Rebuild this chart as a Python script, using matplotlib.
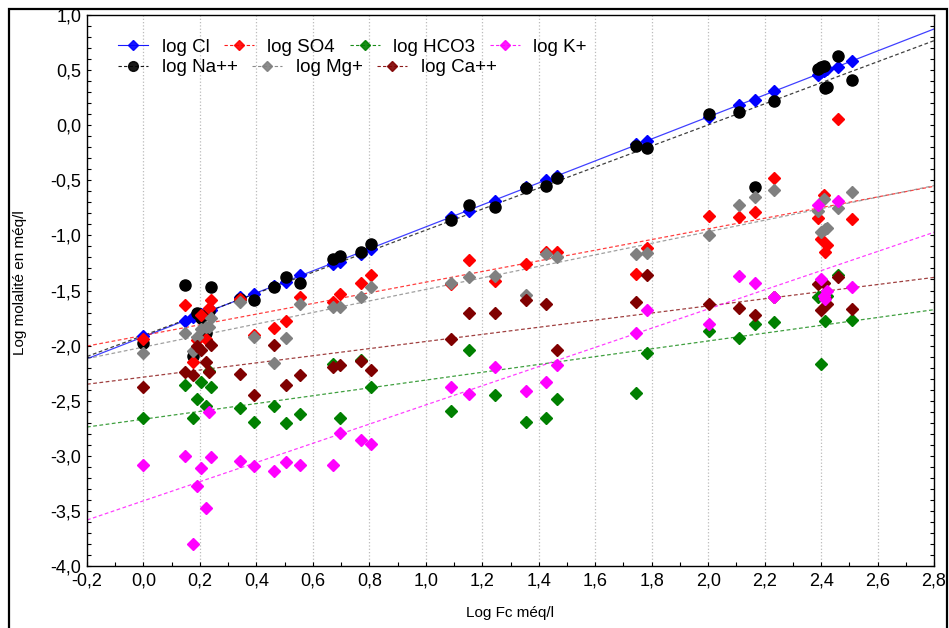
import matplotlib
matplotlib.use('Agg')
import numpy as np
import matplotlib.pyplot as plt
from matplotlib.ticker import MultipleLocator, FuncFormatter
from matplotlib.patches import Rectangle

plt.rcParams['font.family'] = ['Liberation Sans', 'DejaVu Sans']

# log Fc of each sample (x axis)
log_fc = [0.00, 0.146, 0.175, 0.19, 0.205, 0.223, 0.232, 0.238, 0.343, 0.39,
          0.464, 0.505, 0.556, 0.672, 0.696, 0.77, 0.806, 1.088, 1.153, 1.245,
          1.356, 1.424, 1.463, 1.744, 1.783, 2.004, 2.11, 2.166, 2.233, 2.39,
          2.40, 2.41, 2.415, 2.42, 2.46, 2.51]

log_cl = [-1.91, -1.78, -1.74, -1.72, -1.71, -1.70, -1.69, -1.68, -1.56, -1.53,
          -1.46, -1.42, -1.36, -1.26, -1.24, -1.17, -1.12, -0.83, -0.78, -0.69,
          -0.56, -0.50, -0.46, -0.17, -0.14, 0.07, 0.18, 0.23, 0.31, 0.46,
          0.48, 0.49, 0.50, 0.51, 0.53, 0.58]
log_na = [-1.98, -1.45, -2.09, -1.70, -1.75, -1.89, -1.69, -1.47, -1.58, -1.59,
          -1.47, -1.38, -1.43, -1.21, -1.19, -1.15, -1.08, -0.86, -0.72, -0.74,
          -0.57, -0.55, -0.48, -0.19, -0.21, 0.10, 0.12, -0.56, 0.22, 0.51,
          0.53, 0.54, 0.34, 0.35, 0.63, 0.41]
log_so4 = [-1.94, -1.63, -2.15, -1.95, -1.72, -1.94, -1.66, -1.59, -1.58, -1.90,
           -1.84, -1.78, -1.56, -1.60, -1.53, -1.43, -1.36, -1.44, -1.22, -1.41,
           -1.26, -1.15, -1.15, -1.35, -1.11, -0.82, -0.83, -0.79, -0.48, -0.84,
           -1.03, -0.63, -1.15, -1.09, 0.06, -0.85]
log_mg = [-2.07, -1.89, -2.05, -1.92, -1.85, -1.83, -1.83, -1.75, -1.60, -1.92,
          -2.16, -1.93, -1.62, -1.65, -1.65, -1.56, -1.47, -1.43, -1.38, -1.37,
          -1.54, -1.17, -1.20, -1.17, -1.16, -1.00, -0.72, -0.65, -0.59, -0.78,
          -0.97, -0.67, -0.94, -0.93, -0.75, -0.61]
log_hco3 = [-2.66, -2.36, -2.66, -2.48, -2.33, -2.55, -2.23, -2.38, -2.57, -2.69,
            -2.55, -2.70, -2.62, -2.17, -2.66, -2.13, -2.38, -2.59, -2.04, -2.45,
            -2.69, -2.66, -2.48, -2.43, -2.07, -1.87, -1.93, -1.80, -1.79, -1.56,
            -2.17, -1.53, -1.78, -1.55, -1.36, -1.77]
log_ca = [-2.38, -2.24, -2.27, -2.00, -2.04, -2.15, -2.24, -1.99, -2.26, -2.45,
          -1.99, -2.36, -2.27, -2.19, -2.18, -2.14, -2.22, -1.94, -1.70, -1.70,
          -1.59, -1.62, -2.04, -1.60, -1.36, -1.62, -1.66, -1.72, -1.56, -1.44,
          -1.68, -1.43, -1.57, -1.62, -1.38, -1.67]
log_k = [-3.08, -3.00, -3.80, -3.27, -3.11, -3.47, -2.60, -3.01, -3.05, -3.09,
         -3.14, -3.06, -3.08, -3.08, -2.79, -2.86, -2.89, -2.38, -2.44, -2.19,
         -2.41, -2.33, -2.18, -1.89, -1.68, -1.80, -1.37, -1.43, -1.56, -0.72,
         -1.40, -1.55, -1.58, -1.50, -0.69, -1.47]

# label, values, colour, marker, solid fit line?
series = [
    ('log Cl', log_cl, '#0000ff', 'D', True),
    ('log Na++', log_na, '#000000', 'o', False),
    ('log SO4', log_so4, '#ff0000', 'D', False),
    ('log Mg+', log_mg, '#808080', 'D', False),
    ('log HCO3', log_hco3, '#008000', 'D', False),
    ('log Ca++', log_ca, '#800000', 'D', False),
    ('log K+', log_k, '#ff00ff', 'D', False),
]
legend_rows = [['log Cl', 'log SO4', 'log HCO3', 'log K+'],
               ['log Na++', 'log Mg+', 'log Ca++']]

fig = plt.figure(figsize=(9.49, 6.28), dpi=100)
ax = fig.add_axes([0.0917, 0.0987, 0.8925, 0.8774])

x = np.array(log_fc)
xfit = np.array([-0.2, 2.8])
handles = {}
for label, vals, color, marker, solid in series:
    k, b = np.polyfit(x, np.array(vals), 1)
    ls = '-' if solid else (0, (3, 2))
    ax.plot(xfit, k * xfit + b, color=color, lw=0.9, ls=ls, alpha=0.75, zorder=2)
for label, vals, color, marker, solid in series:
    ms = 8 if marker == 'o' else 6.5
    ax.plot(x, vals, ls='none', marker=marker, ms=ms, color=color,
            mec=color, zorder=3)
    ls = '-' if solid else (0, (3, 2))
    h, = ax.plot([], [], marker=marker, ms=ms - 1, color=color, lw=0.8, ls=ls,
                 alpha=0.9)
    handles[label] = h

ax.set_xlim(-0.2, 2.8)
ax.set_ylim(-4.0, 1.0)
ax.xaxis.set_major_locator(MultipleLocator(0.2))
ax.xaxis.set_minor_locator(MultipleLocator(0.1))
ax.yaxis.set_major_locator(MultipleLocator(0.5))
ax.yaxis.set_minor_locator(MultipleLocator(0.1))
fmt = FuncFormatter(lambda v, p: f'{v:.1f}'.replace('.', ',').replace('-0,0', '0,0'))
ax.xaxis.set_major_formatter(fmt)
ax.yaxis.set_major_formatter(fmt)
ax.tick_params(which='both', direction='in', right=True, length=3, width=0.8,
               labelsize=13, pad=4)
ax.tick_params(axis='x', pad=5)
ax.grid(axis='x', which='major', ls=':', color='#bbbbbb', lw=0.9)
for s in ax.spines.values():
    s.set_linewidth(1.0)

# two independent legend rows, like the original
first = True
for row, y in zip(legend_rows, [0.942, 0.904]):
    leg = ax.legend([handles[n] for n in row], row, ncol=len(row),
                    loc='center left', bbox_to_anchor=(0.026, y),
                    frameon=False, fontsize=13.5, borderpad=0,
                    handlelength=1.6, handletextpad=0.7, columnspacing=0.8)
    if first:
        ax.add_artist(leg)
        first = False

fig.text(0.537, 0.024, 'Log Fc méq/l', ha='center', va='center', fontsize=11)
fig.text(0.021, 0.55, 'Log molalité en méq/l', ha='center', va='center',
         rotation=90, fontsize=11)

fig.patches.append(Rectangle((9 / 949, -0.02), 938 / 949, 1.02 - 9 / 628,
                             transform=fig.transFigure, fill=False,
                             ec='black', lw=1.6))

fig.savefig('out.png', dpi=100)
